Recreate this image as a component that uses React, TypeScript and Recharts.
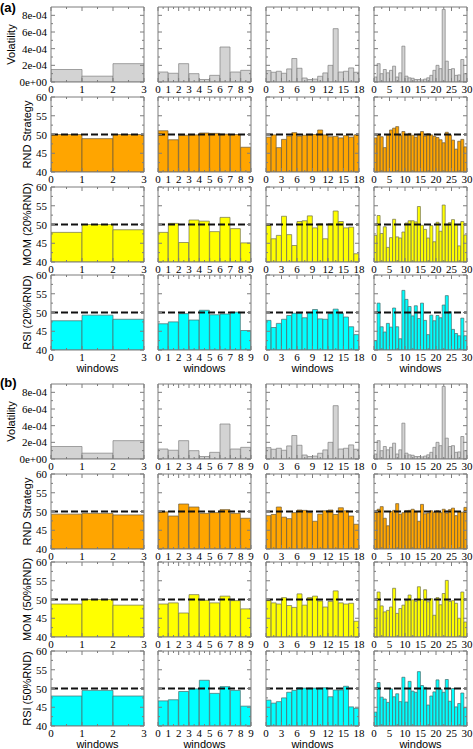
import React from 'react';
import { BarChart, Bar, XAxis, YAxis, ReferenceLine } from 'recharts';

// ---------- Volatility (same market windows in both panels) ----------
const volW3 = [1.5e-4, 0.7e-4, 2.2e-4];
const volW9 = [1.2e-4, 1.05e-4, 2.2e-4, 1.0e-4, 0.3e-4, 0.8e-4, 4.2e-4, 1.2e-4, 1.4e-4];
const volW18 = [1.37e-4, 1.17e-4, 1.29e-4, 1.05e-4, 1.57e-4, 2.82e-4, 1.65e-4, 0.48e-4, 0.3e-4, 0.35e-4, 0.69e-4, 1.09e-4, 2.0e-4, 6.4e-4, 1.2e-4, 1.29e-4, 1.69e-4, 1.17e-4];
const volW30 = [0.6e-4, 2.2e-4, 1.0e-4, 1.5e-4, 1.1e-4, 1.4e-4, 1.9e-4, 0.6e-4, 1.1e-4, 4.3e-4, 0.7e-4, 0.5e-4, 0.45e-4, 0.3e-4, 0.3e-4, 0.25e-4, 0.35e-4, 0.5e-4, 0.8e-4, 1.4e-4, 2.0e-4, 1.6e-4, 8.7e-4, 2.5e-4, 1.5e-4, 1.6e-4, 0.8e-4, 0.85e-4, 2.7e-4, 1.0e-4];

// ---------- Panel (a) ----------
const rndA3 = [50.0, 48.9, 50.0];
const rndA9 = [51.0, 48.6, 49.8, 49.9, 50.4, 50.3, 50.1, 50.0, 46.6];
const rndA18 = [49.3, 49.9, 46.5, 48.7, 49.6, 50.5, 49.6, 49.8, 49.9, 50.0, 51.2, 49.9, 49.4, 49.5, 49.1, 49.7, 49.3, 49.9];
const rndA30 = [49.1, 49.9, 49.4, 46.5, 49.8, 51.2, 51.7, 52.1, 49.7, 50.8, 49.9, 50.3, 49.8, 49.3, 50.1, 50.8, 49.6, 50.2, 49.9, 49.5, 49.2, 48.6, 47.8, 50.6, 49.9, 48.5, 46.1, 48.2, 48.7, 46.7];

const momA3 = [47.9, 50.0, 48.6];
const momA9 = [47.9, 50.3, 45.2, 51.2, 50.9, 48.1, 51.9, 48.9, 45.1];
const momA18 = [49.8, 46.2, 47.1, 52.2, 47.3, 44.4, 50.8, 51.0, 52.3, 49.1, 50.2, 46.2, 50.2, 53.6, 50.8, 49.1, 49.3, 42.2];
const momA30 = [47.1, 52.4, 47.6, 49.4, 43.9, 46.5, 51.4, 46.7, 46.4, 48.0, 50.4, 51.0, 51.0, 50.7, 54.8, 49.8, 48.7, 46.4, 49.7, 45.4, 50.6, 48.2, 55.2, 49.9, 50.5, 51.3, 50.0, 44.3, 50.8, 47.2];

const rsiA3 = [47.8, 49.3, 48.2];
const rsiA9 = [47.0, 47.5, 49.7, 48.0, 50.6, 49.4, 49.6, 50.1, 45.2];
const rsiA18 = [47.9, 46.0, 47.1, 48.2, 49.2, 49.8, 49.8, 48.6, 50.0, 50.8, 48.3, 48.2, 49.7, 50.9, 49.8, 48.8, 46.2, 44.1];
const rsiA30 = [42.5, 52.5, 46.2, 44.8, 47.1, 46.1, 51.2, 46.2, 43.0, 55.9, 53.5, 51.6, 49.1, 51.8, 48.4, 52.5, 47.9, 44.1, 49.3, 47.8, 49.2, 48.6, 52.0, 54.5, 50.2, 45.5, 44.4, 43.8, 48.5, 43.8];

// ---------- Panel (b) ----------
const rndB3 = [49.3, 49.5, 49.1];
const rndB9 = [49.9, 48.8, 52.0, 51.2, 49.5, 49.7, 50.5, 49.5, 48.2];
const rndB18 = [48.9, 49.2, 51.2, 48.5, 48.1, 49.7, 50.4, 50.3, 49.7, 47.4, 49.3, 50.2, 50.4, 49.2, 51.0, 50.2, 48.8, 46.6];
const rndB30 = [49.8, 50.6, 51.3, 48.2, 46.2, 50.0, 50.3, 52.1, 49.3, 49.7, 50.2, 50.3, 50.6, 49.9, 47.4, 51.9, 49.4, 49.6, 50.2, 49.8, 50.2, 49.7, 50.6, 49.6, 50.5, 50.9, 48.9, 50.0, 49.8, 51.1];

const momB3 = [48.8, 50.0, 48.5];
const momB9 = [48.8, 49.1, 46.4, 51.3, 49.8, 49.1, 50.9, 49.7, 47.5];
const momB18 = [49.7, 49.1, 48.8, 50.5, 48.4, 47.9, 51.5, 48.5, 50.5, 50.9, 49.6, 48.0, 49.5, 52.3, 49.1, 48.8, 49.0, 44.2];
const momB30 = [47.5, 52.0, 48.3, 46.7, 47.1, 48.0, 53.0, 46.3, 47.6, 48.5, 49.7, 51.2, 49.9, 49.5, 53.4, 50.0, 52.6, 49.4, 50.2, 45.8, 50.5, 48.6, 51.6, 55.1, 49.5, 49.7, 49.0, 45.0, 52.0, 44.0];

const rsiB3 = [48.0, 49.5, 48.0];
const rsiB9 = [46.7, 47.0, 49.2, 49.9, 52.2, 48.7, 50.5, 49.5, 45.3];
const rsiB18 = [46.9, 46.1, 46.5, 47.5, 49.0, 49.5, 50.2, 50.1, 50.1, 50.1, 50.1, 50.2, 47.8, 49.6, 49.6, 50.6, 45.1, 44.7];
const rsiB30 = [43.7, 51.6, 47.7, 47.2, 46.3, 49.9, 47.8, 48.6, 46.5, 53.0, 46.4, 51.9, 49.3, 49.0, 54.5, 50.8, 50.3, 45.6, 48.0, 49.1, 52.3, 49.8, 49.0, 52.4, 46.6, 50.0, 45.1, 46.0, 48.8, 44.9];

// ---------- Ticks ----------
const xMajor = [
  [0, 1, 2, 3],
  [0, 1, 2, 3, 4, 5, 6, 7, 8, 9],
  [0, 3, 6, 9, 12, 15, 18],
  [0, 5, 10, 15, 20, 25, 30],
];
const xMinor = [
  [0.5, 1.5, 2.5],
  [0.5, 1.5, 2.5, 3.5, 4.5, 5.5, 6.5, 7.5, 8.5],
  [1.5, 4.5, 7.5, 10.5, 13.5, 16.5],
  [2.5, 7.5, 12.5, 17.5, 22.5, 27.5],
];
const volMajor = [0, 2e-4, 4e-4, 6e-4, 8e-4];
const volTickLabels = ['0e+00', '2e-04', '4e-04', '6e-04', '8e-04'];
const volMinor = [1e-4, 3e-4, 5e-4, 7e-4];
const pctMajor = [40, 45, 50, 55, 60];
const pctTickLabels = ['40', '45', '50', '55', '60'];
const pctMinor = [42.5, 47.5, 52.5, 57.5];

const rowTitlesA = ['Volatility', 'RND Strategy', 'MOM (20%RND)', 'RSI (20%RND)'];
const rowTitlesB = ['Volatility', 'RND Strategy', 'MOM (50%RND)', 'RSI (50%RND)'];
const xTitle = 'windows';

const rowsA = [
  [volW3, volW9, volW18, volW30],
  [rndA3, rndA9, rndA18, rndA30],
  [momA3, momA9, momA18, momA30],
  [rsiA3, rsiA9, rsiA18, rsiA30],
];
const rowsB = [
  [volW3, volW9, volW18, volW30],
  [rndB3, rndB9, rndB18, rndB30],
  [momB3, momB9, momB18, momB30],
  [rsiB3, rsiB9, rsiB18, rsiB30],
];

// ---------- Layout & style ----------
const colLefts = [51, 158, 266, 374];
const rowTopsA = [7, 97, 187, 275];
const rowTopsB = [384, 474, 562, 651];
const PW = 93;
const PH = 75;
const ML = 52;
const MR = 6;
const MT = 6;
const MB = 22;
const AX = 1; // thickness reserved by each axis
const rowFills = ['#d3d3d3', '#ffa500', '#ffff00', '#00ffff'];
const rowStrokes = ['#808080', '#6b5a3a', '#707050', '#4a6a6a'];
const AXIS = '#7d7d7d';
const SERIF = '"Liberation Serif", "Times New Roman", serif';
const SANS = '"Liberation Sans", Arial, Helvetica, sans-serif';

function makeXTick(majors: number[], side: 'bottom' | 'top', showLabel: boolean) {
  return (props: any) => {
    const { x, y, payload } = props;
    const v = payload.value;
    const major = majors.indexOf(v) >= 0;
    const len = major ? 4 : 2;
    const dir = side === 'bottom' ? -1 : 1;
    return (
      <g>
        <line x1={x} x2={x} y1={y} y2={y + dir * len} stroke={AXIS} strokeWidth={1} />
        {showLabel && major ? (
          <text x={x} y={y + 11} textAnchor="middle" fontFamily={SERIF} fontSize={11} fill="#000">
            {String(v)}
          </text>
        ) : null}
      </g>
    );
  };
}

function makeYTick(majors: number[], labels: string[], side: 'left' | 'right', showLabel: boolean) {
  return (props: any) => {
    const { x, y, payload } = props;
    const v = payload.value;
    const idx = majors.indexOf(v);
    const major = idx >= 0;
    const len = major ? 4 : 2;
    const dir = side === 'left' ? 1 : -1;
    return (
      <g>
        <line x1={x} x2={x + dir * len} y1={y} y2={y} stroke={AXIS} strokeWidth={1} />
        {showLabel && major ? (
          <text x={x - 4} y={y + 4} textAnchor="end" fontFamily={SERIF} fontSize={11} fill="#000">
            {labels[idx]}
          </text>
        ) : null}
      </g>
    );
  };
}

function Cell({ values, col, row, top }: { values: number[]; col: number; row: number; top: number }) {
  const n = values.length;
  const data = values.map((v, i) => ({ x: i + 0.5, v }));
  const xt = [...xMajor[col], ...xMinor[col]].sort((a, b) => a - b);
  const isVol = row === 0;
  const yMaj = isVol ? volMajor : pctMajor;
  const yLab = isVol ? volTickLabels : pctTickLabels;
  const yt = [...yMaj, ...(isVol ? volMinor : pctMinor)].sort((a, b) => a - b);
  const yDomain: [number, number] = isVol ? [0, 9e-4] : [40, 60];
  return (
    <div style={{ position: 'absolute', left: colLefts[col] - ML - AX, top: top - MT - AX }}>
      <BarChart
        width={PW + ML + MR + 2 * AX}
        height={PH + MT + MB + 2 * AX}
        data={data}
        margin={{ top: MT, right: MR, bottom: MB, left: ML }}
        barCategoryGap={0}
        barGap={0}
      >
        <XAxis
          xAxisId="b"
          dataKey="x"
          type="number"
          domain={[0, n]}
          allowDataOverflow
          ticks={xt}
          interval={0}
          height={AX}
          tickSize={0}
          tickMargin={0}
          tickLine={false}
          axisLine={{ stroke: AXIS, strokeWidth: 1 }}
          tick={makeXTick(xMajor[col], 'bottom', true)}
        />
        <XAxis
          xAxisId="t"
          orientation="top"
          dataKey="x"
          type="number"
          domain={[0, n]}
          allowDataOverflow
          ticks={xt}
          interval={0}
          height={AX}
          tickSize={0}
          tickMargin={0}
          tickLine={false}
          axisLine={{ stroke: AXIS, strokeWidth: 1 }}
          tick={makeXTick(xMajor[col], 'top', false)}
        />
        <YAxis
          yAxisId="l"
          type="number"
          domain={yDomain}
          allowDataOverflow
          ticks={yt}
          interval={0}
          width={AX}
          tickSize={0}
          tickMargin={0}
          tickLine={false}
          axisLine={{ stroke: AXIS, strokeWidth: 1 }}
          tick={makeYTick(yMaj, yLab, 'left', col === 0)}
        />
        <YAxis
          yAxisId="r"
          orientation="right"
          type="number"
          domain={yDomain}
          allowDataOverflow
          ticks={yt}
          interval={0}
          width={AX}
          tickSize={0}
          tickMargin={0}
          tickLine={false}
          axisLine={{ stroke: AXIS, strokeWidth: 1 }}
          tick={makeYTick(yMaj, yLab, 'right', false)}
        />
        <Bar
          xAxisId="b"
          yAxisId="l"
          dataKey="v"
          fill={rowFills[row]}
          stroke={rowStrokes[row]}
          strokeWidth={0.7}
          isAnimationActive={false}
        />
        {!isVol ? (
          <ReferenceLine
            xAxisId="b"
            yAxisId="l"
            y={50}
            stroke="#111"
            strokeWidth={1.8}
            strokeDasharray="7 3"
          />
        ) : null}
      </BarChart>
    </div>
  );
}

function Panel({ rows, tops, tag }: { rows: number[][][]; tops: number[]; tag: string }) {
  return (
    <>
      {rows.map((r, ri) =>
        r.map((vals, ci) => <Cell key={tag + ri + '-' + ci} values={vals} col={ci} row={ri} top={tops[ri]} />)
      )}
    </>
  );
}

function Titles({ tops, titles, tag, tagY }: { tops: number[]; titles: string[]; tag: string; tagY: number }) {
  return (
    <g>
      <text x={0} y={tagY} fontFamily={SANS} fontWeight="bold" fontSize={13} fill="#000">
        {tag}
      </text>
      {titles.map((t, i) => {
        const cx = i === 0 ? 15 : 31;
        const cy = tops[i] + PH / 2;
        return (
          <text
            key={t}
            transform={`translate(${cx},${cy}) rotate(-90)`}
            textAnchor="middle"
            fontFamily={SANS}
            fontSize={11}
            fill="#000"
          >
            {t}
          </text>
        );
      })}
      {colLefts.map((l) => (
        <text
          key={'w' + l}
          x={l + PW / 2}
          y={tops[3] + PH + 22}
          textAnchor="middle"
          fontFamily={SANS}
          fontSize={11}
          fill="#000"
        >
          {xTitle}
        </text>
      ))}
    </g>
  );
}

export default function App() {
  return (
    <div style={{ position: 'absolute', left: 0, top: 0, width: 473, height: 749, background: '#fff', overflow: 'hidden' }}>
      <Panel rows={rowsA} tops={rowTopsA} tag="a" />
      <Panel rows={rowsB} tops={rowTopsB} tag="b" />
      <svg width={473} height={749} style={{ position: 'absolute', left: 0, top: 0, pointerEvents: 'none' }}>
        <Titles tops={rowTopsA} titles={rowTitlesA} tag="(a)" tagY={12} />
        <Titles tops={rowTopsB} titles={rowTitlesB} tag="(b)" tagY={387} />
      </svg>
    </div>
  );
}
